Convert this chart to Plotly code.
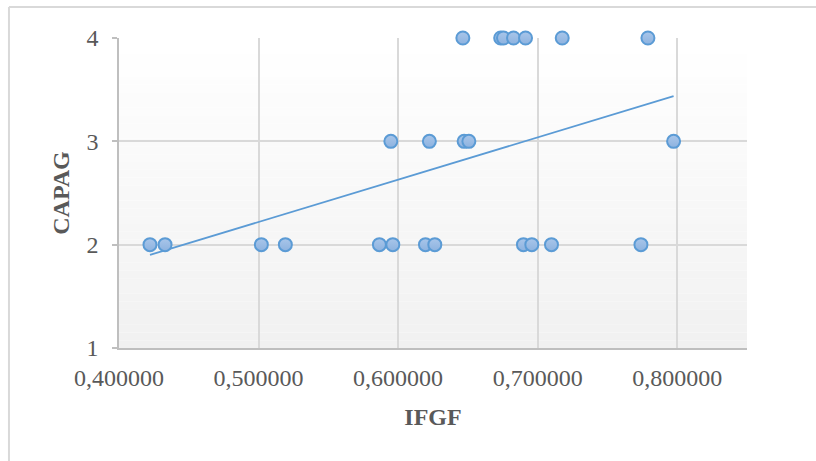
import numpy as np
import plotly.graph_objects as go

# ---- data ----
ifgf_capag2 = [0.4222, 0.4330, 0.5020, 0.5192, 0.5866, 0.5962, 0.6196, 0.6263,
               0.6898, 0.6958, 0.7099, 0.7740]
ifgf_capag3 = [0.5948, 0.6224, 0.6473, 0.6507, 0.7974]
ifgf_capag4 = [0.6464, 0.6735, 0.6755, 0.6827, 0.6913, 0.7176, 0.7790]

x_ticks = [0.4, 0.5, 0.6, 0.7, 0.8]
x_tick_labels = ["0,400000", "0,500000", "0,600000", "0,700000", "0,800000"]
y_ticks = [1, 2, 3, 4]
y_tick_labels = ["1", "2", "3", "4"]

x_title = "IFGF"
y_title = "CAPAG"

xs = np.array(ifgf_capag2 + ifgf_capag3 + ifgf_capag4)
ys = np.array([2] * len(ifgf_capag2) + [3] * len(ifgf_capag3) + [4] * len(ifgf_capag4))

slope, intercept = np.polyfit(xs, ys, 1)
trend_x = np.array([xs.min(), xs.max()])
trend_y = slope * trend_x + intercept

BLUE = "#5B9BD5"
GRID = "#D9D9D9"
AXIS = "#BFBFBF"
TEXT = "#595959"
FONT = "Liberation Serif, Times New Roman, serif"
FS = 24

fig = go.Figure()
fig.add_trace(go.Scatter(
    x=trend_x, y=trend_y, mode="lines",
    line=dict(color=BLUE, width=1.75), hoverinfo="skip", showlegend=False,
))
fig.add_trace(go.Scatter(
    x=xs, y=ys, mode="markers", cliponaxis=False, showlegend=False,
    marker=dict(size=13, color="#A9C6EA",
                gradient=dict(type="vertical", color="#8DB2DF"),
                line=dict(color=BLUE, width=2)),
))

# plot-area gradient (white -> light grey) as horizontal bands
shapes = []
n_bands = 40
for i in range(n_bands):
    t = i / (n_bands - 1)
    c = int(round(255 - 14 * (1 - t)))
    shapes.append(dict(type="rect", xref="x domain", yref="y domain",
                       x0=0, x1=1, y0=i / n_bands, y1=(i + 1) / n_bands,
                       fillcolor=f"rgb({c},{c},{c})", line=dict(width=0),
                       layer="below"))
# outer chart border (only left and top edges are visible in the reference)
shapes.append(dict(type="line", xref="paper", yref="paper",
                   x0=-0.1752, x1=-0.1752, y0=-0.5, y1=1.1,
                   line=dict(color="#D9D9D9", width=2), layer="below"))
shapes.append(dict(type="line", xref="paper", yref="paper",
                   x0=-0.1752, x1=1.5, y0=1.1, y1=1.1,
                   line=dict(color="#D9D9D9", width=2), layer="below"))

fig.update_layout(
    width=816, height=461,
    margin=dict(l=119, r=69, t=38, b=113),
    paper_bgcolor="white", plot_bgcolor="white",
    shapes=shapes,
    font=dict(family=FONT, color=TEXT, size=FS),
    xaxis=dict(
        range=[0.4, 0.85], tickvals=x_ticks, ticktext=x_tick_labels,
        showgrid=True, gridcolor=GRID, gridwidth=1.5,
        showline=True, linecolor=AXIS, linewidth=1.5,
        ticks="", zeroline=False, ticklabelstandoff=7,
        tickfont=dict(family=FONT, size=FS, color=TEXT),
        title=dict(text=f"<b>{x_title}</b>", standoff=19,
                   font=dict(family=FONT, size=FS, color=TEXT)),
    ),
    yaxis=dict(
        range=[1, 4], tickvals=y_ticks, ticktext=y_tick_labels,
        showgrid=True, gridcolor=GRID, gridwidth=1.5,
        showline=True, linecolor=AXIS, linewidth=1.5,
        ticks="outside", ticklen=5, tickcolor=AXIS, tickwidth=1.5,
        zeroline=False, ticklabelstandoff=9,
        tickfont=dict(family=FONT, size=FS, color=TEXT),
        title=dict(text=f"<b>{y_title}</b>", standoff=10,
                   font=dict(family=FONT, size=FS, color=TEXT)),
    ),
)

fig.write_html(
    "out.html",
    config={"displayModeBar": False},
    post_script="document.body.style.margin='0';"
                "document.documentElement.style.overflow='hidden';",
)
